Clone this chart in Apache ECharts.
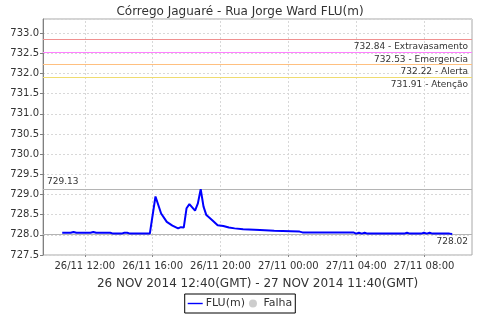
<!DOCTYPE html>
<html>
<head>
<meta charset="utf-8">
<script src="https://cdn.jsdelivr.net/npm/echarts@6/dist/echarts.min.js"></script>
<style>
  html, body { margin: 0; padding: 0; background: #fff; }
  #chart { width: 480px; height: 320px; }
</style>
</head>
<body>
<div id="chart"></div>
<script>
// leituras do sensor (hora local, dd/mm hh:mm)
const times = [
  '26/11 10:40', '26/11 11:10', '26/11 11:20', '26/11 11:30', '26/11 12:20', '26/11 12:30', '26/11 12:40',
  '26/11 13:30', '26/11 13:40', '26/11 14:10', '26/11 14:20', '26/11 14:30', '26/11 14:40', '26/11 15:50',
  '26/11 16:10', '26/11 16:30', '26/11 16:50', '26/11 17:10', '26/11 17:30', '26/11 17:40', '26/11 17:50',
  '26/11 18:00', '26/11 18:10', '26/11 18:30', '26/11 18:40', '26/11 18:50', '26/11 19:00', '26/11 19:10',
  '26/11 19:30', '26/11 19:50', '26/11 20:10', '26/11 20:30', '26/11 20:50', '26/11 21:20', '26/11 22:20',
  '26/11 23:10', '27/11 00:40', '27/11 00:50', '27/11 03:50', '27/11 04:00', '27/11 04:10', '27/11 04:20',
  '27/11 04:30', '27/11 04:40', '27/11 06:50', '27/11 07:00', '27/11 07:10', '27/11 07:50', '27/11 08:00',
  '27/11 08:10', '27/11 08:20', '27/11 08:30', '27/11 09:30', '27/11 09:40'
]
const levels = [
  728.05, 728.05, 728.07, 728.05, 728.05, 728.07, 728.05,
  728.05, 728.03, 728.03, 728.05, 728.05, 728.03, 728.03,
  728.95, 728.53, 728.32, 728.23, 728.16, 728.19, 728.18,
  728.66, 728.76, 728.60, 728.78, 729.13, 728.70, 728.49,
  728.37, 728.24, 728.22, 728.18, 728.16, 728.14, 728.12,
  728.10, 728.08, 728.06, 728.06, 728.03, 728.05, 728.03,
  728.05, 728.03, 728.03, 728.05, 728.03, 728.03, 728.05,
  728.03, 728.05, 728.03, 728.03, 728.02
]
const tickTimes = ['26/11 12:00', '26/11 16:00', '26/11 20:00', '27/11 00:00', '27/11 04:00', '27/11 08:00']
const limitValues = [732.84, 732.53, 732.22, 731.91]
const limitNames = ['Extravasamento', 'Emergencia', 'Alerta', 'Atenção']
const maxLevel = 729.13
const lastLevel = 728.02

const limitColors = ['#f09090', '#ff80ff', '#ffc080', '#f0dc70']
const gridColor = '#d8d8d8'
const font = 'DejaVu Sans'

const toTs = (s) => {
  const [d, h] = s.split(' ')
  const [day, month] = d.split('/').map(Number)
  const [hh, mm] = h.split(':').map(Number)
  return new Date(2014, month - 1, day, hh, mm).getTime()
}
const pad = (n) => (n < 10 ? '0' + n : '' + n)
const fmtTick = (v) => {
  const t = new Date(v)
  return pad(t.getDate()) + '/' + pad(t.getMonth() + 1) + ' ' + pad(t.getHours()) + ':' + pad(t.getMinutes())
}

const ticks = tickTimes.map(toTs)
const seriesData = times.map((t, i) => [toTs(t), levels[i]])

// linhas verticais da grade nas horas marcadas
const markData = ticks.map((t) => ({
  xAxis: t,
  lineStyle: { color: gridColor, type: [2, 2] },
  label: { show: false },
}))
limitValues.forEach((v, i) => {
  markData.push({
    yAxis: v,
    lineStyle: { color: limitColors[i] },
    label: { formatter: v.toFixed(2) + ' - ' + limitNames[i], position: 'insideEndBottom' },
  })
})
markData.push({
  yAxis: maxLevel,
  lineStyle: { color: '#b4b4b4' },
  label: { formatter: maxLevel.toFixed(2), position: 'insideStartTop' },
})
markData.push({
  yAxis: lastLevel,
  lineStyle: { color: '#b4b4b4' },
  label: { formatter: lastLevel.toFixed(2), position: 'insideEndBottom' },
})

const chart = echarts.init(document.getElementById('chart'))
chart.setOption({
  animation: false,
  title: {
    text: 'Córrego Jaguaré - Rua Jorge Ward FLU(m)',
    left: 'center',
    top: 1,
    textStyle: { fontFamily: font, fontSize: 12, fontWeight: 'normal', color: '#333' },
  },
  legend: {
    bottom: 7,
    left: 'center',
    borderColor: '#000',
    borderWidth: 1,
    borderRadius: 0,
    padding: [4, 3],
    itemGap: 4,
    itemWidth: 15,
    itemHeight: 8,
    textStyle: { fontFamily: font, fontSize: 11, color: '#333', padding: [0, 0, 0, -2] },
    data: [
      { name: 'FLU(m)', icon: 'path://M0,4L16,4L16,5.5L0,5.5Z' },
      { name: 'Falha', icon: 'circle' },
    ],
  },
  grid: {
    left: 43,
    right: 8,
    top: 19,
    bottom: 65,
    show: true,
    borderColor: '#a8a8a8',
    borderWidth: 1,
  },
  xAxis: {
    type: 'value',
    min: toTs('26/11 09:32'),
    max: toTs('27/11 10:50'),
    name: '26 NOV 2014 12:40(GMT) - 27 NOV 2014 11:40(GMT)',
    nameLocation: 'middle',
    nameGap: 23,
    nameTextStyle: { fontFamily: font, fontSize: 12, color: '#333' },
    axisLine: { show: false },
    axisTick: { show: true, customValues: ticks, length: 2, lineStyle: { color: '#888' } },
    axisLabel: {
      customValues: ticks,
      formatter: fmtTick,
      fontFamily: font,
      fontSize: 10,
      color: '#333',
      margin: 6,
      hideOverlap: false,
    },
    splitLine: { show: false },
  },
  yAxis: {
    type: 'value',
    min: 727.5,
    max: 733.35,
    interval: 0.5,
    axisLine: { show: true, lineStyle: { color: '#808080' } },
    axisTick: { show: true, length: 3, lineStyle: { color: '#808080' } },
    axisLabel: {
      showMaxLabel: false,
      formatter: (v) => v.toFixed(1),
      fontFamily: font,
      fontSize: 10,
      color: '#333',
      margin: 4,
    },
    splitLine: { show: true, lineStyle: { color: gridColor, type: [2, 2] } },
  },
  series: [
    {
      name: 'FLU(m)',
      type: 'line',
      data: seriesData,
      showSymbol: false,
      color: '#0000ff',
      lineStyle: { width: 2, color: '#0000ff' },
      markLine: {
        silent: true,
        symbol: 'none',
        precision: 2,
        z: 1,
        lineStyle: { type: 'solid', width: 1 },
        label: { fontFamily: font, fontSize: 9, color: '#333', distance: [4, 3] },
        data: markData,
      },
      z: 3,
    },
    {
      name: 'Falha',
      type: 'scatter',
      data: [],
      color: '#c0c0c0',
    },
  ],
})
</script>
</body>
</html>
